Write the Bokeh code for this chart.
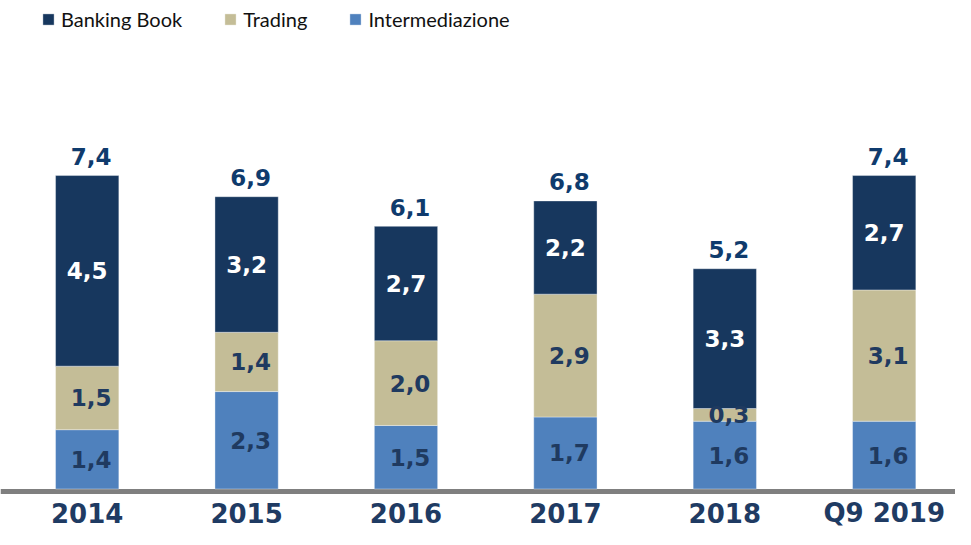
import numpy as np
from bokeh.plotting import figure
from bokeh.models import Range1d, Legend, LegendItem, Span, ColumnDataSource
from bokeh.core.properties import value
from bokeh.embed import file_html
from bokeh.resources import INLINE

# ---- data ----
categories = ["2014", "2015", "2016", "2017", "2018", "Q9 2019"]
intermediazione = [1.4, 2.3, 1.5, 1.7, 1.6, 1.6]
trading = [1.5, 1.4, 2.0, 2.9, 0.3, 3.1]
banking_book = [4.5, 3.2, 2.7, 2.2, 3.3, 2.7]
totals = [7.4, 6.9, 6.1, 6.8, 5.2, 7.4]

# ---- styles ----
C_BB = "#17375e"
C_TR = "#c4bd97"
C_IN = "#4f81bd"
C_LBL = "#1f3a60"
C_TOT = "#0f3b6d"
C_CAT = "#1f3b63"
FONT = value("DejaVu Sans")


def fmt(v):
    return f"{v:.1f}".replace(".", ",")


x = np.arange(len(categories))
inter = np.array(intermediazione)
trad = np.array(trading)
bb = np.array(banking_book)
b1 = inter
b2 = inter + trad
b3 = b2 + bb

W, H = 955, 529
p = figure(width=W, height=H, output_backend="svg", toolbar_location=None,
           x_range=Range1d(-0.5439, 5.4473), y_range=Range1d(-0.956, 11.532),
           min_border_left=0, min_border_right=0, min_border_top=0, min_border_bottom=0)
p.axis.visible = False
p.grid.visible = False
p.outline_line_color = None
p.background_fill_color = "white"
p.border_fill_color = "white"

# baseline (axis line) just beneath the bars
p.add_layout(Span(location=-0.06, dimension="width", line_color="#7f7f7f",
                  line_width=5, level="underlay"))

bw = 0.397
r_in = p.vbar(x=x, bottom=0, top=b1, width=bw, fill_color=C_IN,
              line_color="white", line_width=0.6, line_alpha=0.6)
r_tr = p.vbar(x=x, bottom=b1, top=b2, width=bw, fill_color=C_TR,
              line_color="white", line_width=0.6, line_alpha=0.6)
r_bb = p.vbar(x=x, bottom=b2, top=b3, width=bw, fill_color=C_BB,
              line_color="white", line_width=0.6, line_alpha=0.6)

# segment labels
src_in = ColumnDataSource(dict(x=x, y=inter / 2, t=[fmt(v) for v in inter]))
src_tr = ColumnDataSource(dict(x=x, y=b1 + trad / 2, t=[fmt(v) for v in trad]))
src_bb = ColumnDataSource(dict(x=x, y=b2 + bb / 2, t=[fmt(v) for v in bb]))
for src, col, xo in [(src_in, C_LBL, 4), (src_tr, C_LBL, 4), (src_bb, "white", 0)]:
    p.text(x="x", y="y", text="t", source=src, text_font=FONT,
           text_font_style="bold", text_font_size="23px", text_color=col,
           text_align="center", text_baseline="middle", x_offset=xo)

# totals
src_tot = ColumnDataSource(dict(x=x, y=b3, t=[fmt(v) for v in totals]))
p.text(x="x", y="y", text="t", source=src_tot, text_font=FONT,
       text_font_style="bold", text_font_size="23px", text_color=C_TOT,
       text_align="center", text_baseline="alphabetic", x_offset=4, y_offset=-19)

# category labels
src_cat = ColumnDataSource(dict(x=x, y=np.zeros(len(x)), t=categories))
p.text(x="x", y="y", text="t", source=src_cat, text_font=FONT,
       text_font_style="bold", text_font_size="26px", text_color=C_CAT,
       text_align="center", text_baseline="alphabetic", y_offset=24)

legend = Legend(items=[LegendItem(label="Banking Book", renderers=[r_bb]),
                       LegendItem(label="Trading", renderers=[r_tr]),
                       LegendItem(label="Intermediazione", renderers=[r_in])],
                orientation="horizontal", location=(41, 498), padding=0, margin=0,
                spacing=41, glyph_width=14, glyph_height=14, label_standoff=6,
                label_text_font="Lato", label_text_font_size="20px",
                label_text_color="#111111", border_line_color=None,
                background_fill_alpha=0)
p.add_layout(legend)

open("out.html", "w").write(file_html(p, INLINE))
